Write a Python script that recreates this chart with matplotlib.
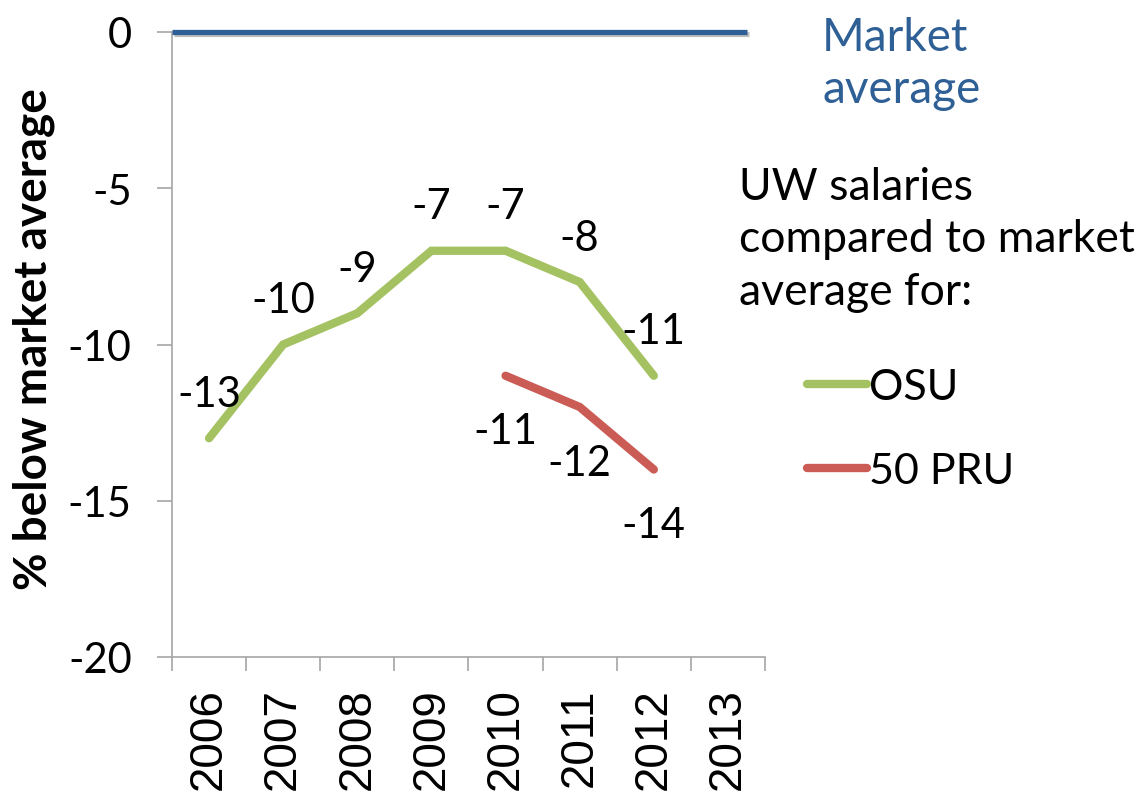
import numpy as np
import matplotlib.pyplot as plt
import matplotlib.patheffects as pe

years = ['2006', '2007', '2008', '2009', '2010', '2011', '2012', '2013']
osu = [-13, -10, -9, -7, -7, -8, -11]
pru_years = ['2010', '2011', '2012']
pru = [-11, -12, -14]
yticks = [0, -5, -10, -15, -20]

GREEN = '#A5C263'
RED = '#CB5C55'
BLUE = '#2E5F95'
AXC = '#A6A6A6'

fig = plt.figure(figsize=(11.44, 8.12), dpi=100)
ax = fig.add_axes([172 / 1144, (812 - 658) / 812, (765 - 172) / 1144, (658 - 33) / 812])

x_osu = np.arange(len(osu))
x_pru = np.array([years.index(y) for y in pru_years])

# market average reference line
ax.axhline(0, xmin=0, xmax=0.97, color=BLUE, lw=3.8, solid_capstyle='butt', clip_on=False,
           path_effects=[pe.SimpleLineShadow(offset=(1.5, -1.5), alpha=0.25), pe.Normal()],
           zorder=3)
l1, = ax.plot(x_osu, osu, color=GREEN, lw=6, solid_capstyle='round', solid_joinstyle='miter', label='OSU')
l2, = ax.plot(x_pru, pru, color=RED, lw=6, solid_capstyle='round', solid_joinstyle='miter', label='50 PRU')

lab_font = dict(family='Lato', fontsize=30)
for x, v in zip(x_osu, osu):
    ax.annotate(str(v), (x, v), xytext=(0, 32), textcoords='offset points',
                ha='center', va='center', **lab_font)
for x, v in zip(x_pru, pru):
    ax.annotate(str(v), (x, v), xytext=(0, -40), textcoords='offset points',
                ha='center', va='center', **lab_font)

ax.set_xlim(-0.5, len(years) - 0.5)
ax.set_ylim(-20, 0)
ax.set_yticks(yticks)
ax.set_yticklabels([str(t) for t in yticks], family='Lato', fontsize=30)
ax.tick_params(axis='y', length=11, width=1.2, color=AXC, pad=18)

ax.set_xticks(np.arange(len(years) + 1) - 0.5)
ax.set_xticklabels([])
ax.set_xticks(np.arange(len(years)), minor=True)
ax.set_xticklabels(years, minor=True, rotation=90, family='Liberation Sans', fontsize=33)
ax.tick_params(axis='x', which='major', length=10, width=1.2, color=AXC)
ax.tick_params(axis='x', which='minor', length=0, pad=22)

for s in ['top', 'right']:
    ax.spines[s].set_visible(False)
for s in ['left', 'bottom']:
    ax.spines[s].set_color(AXC)
    ax.spines[s].set_linewidth(1.2)

ax.set_ylabel('% below market average', family='Lato', fontweight='bold', fontsize=33)
ax.yaxis.set_label_coords(-0.198, 0.51)

fig.text(822 / 1144, 1 - 64 / 812, 'Market\naverage', color=BLUE, family='Lato', fontsize=33,
         ha='left', va='center', linespacing=1.3)
fig.text(739 / 1144, 1 - 240 / 812, 'UW salaries\ncompared to market\naverage for:',
         family='Lato', fontsize=32, ha='left', va='center', linespacing=1.35)

fig.legend(handles=[l1, l2], loc='center left', bbox_to_anchor=(807 / 1144, 1 - 430 / 812),
           frameon=False, prop={'family': 'Lato', 'size': 31}, handlelength=1.4,
           handletextpad=0.05, labelspacing=1.08, borderpad=0, borderaxespad=0)

fig.savefig('out.png', dpi=100)
